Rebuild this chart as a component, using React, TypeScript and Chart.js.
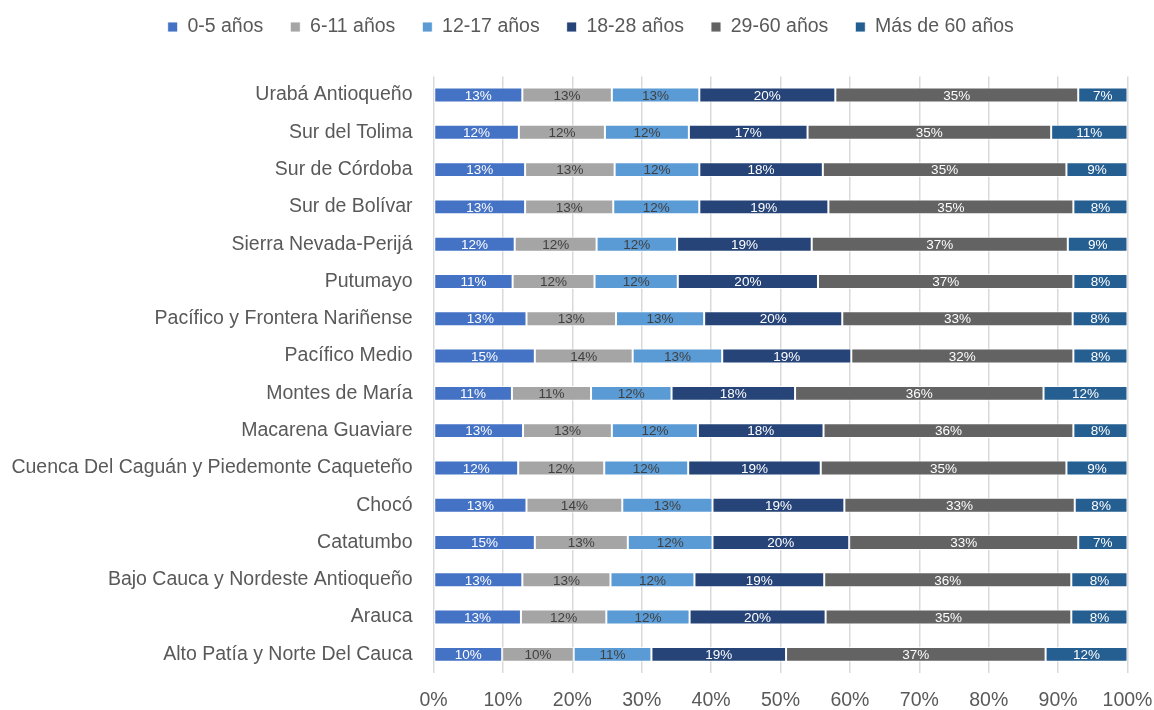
import React, { useEffect, useRef } from 'react';
import { Chart, registerables } from 'chart.js';

Chart.register(...registerables);

const categories = [
  'Urabá Antioqueño',
  'Sur del Tolima',
  'Sur de Córdoba',
  'Sur de Bolívar',
  'Sierra Nevada-Perijá',
  'Putumayo',
  'Pacífico y Frontera Nariñense',
  'Pacífico Medio',
  'Montes de María',
  'Macarena Guaviare',
  'Cuenca Del Caguán y Piedemonte Caqueteño',
  'Chocó',
  'Catatumbo',
  'Bajo Cauca y Nordeste Antioqueño',
  'Arauca',
  'Alto Patía y Norte Del Cauca',
];

const seriesNames = ['0-5 años', '6-11 años', '12-17 años', '18-28 años', '29-60 años', 'Más de 60 años'];

const age0to5 = [12.8, 12.3, 13.2, 13.2, 11.7, 11.4, 13.4, 14.6, 11.3, 12.9, 12.2, 13.4, 14.6, 12.8, 12.6, 9.9];
const age6to11 = [12.9, 12.4, 12.9, 12.7, 11.8, 11.8, 12.9, 14.1, 11.4, 12.8, 12.4, 13.8, 13.4, 12.7, 12.3, 10.3];
const age12to17 = [12.6, 12.1, 12.2, 12.4, 11.6, 12.0, 12.7, 12.9, 11.6, 12.4, 12.1, 13.0, 12.2, 12.1, 12.0, 11.2];
const age18to28 = [19.6, 17.1, 17.8, 18.6, 19.4, 20.2, 19.9, 18.6, 17.8, 18.1, 19.1, 19.0, 19.7, 18.7, 19.6, 19.4];
const age29to60 = [35.0, 35.1, 35.1, 35.3, 36.9, 36.8, 33.2, 32.0, 35.8, 36.0, 35.4, 33.2, 33.0, 35.6, 35.4, 37.4];
const age60plus = [7.1, 11.0, 8.8, 7.8, 8.6, 7.8, 7.9, 7.8, 12.1, 7.8, 8.8, 7.6, 7.1, 8.1, 8.1, 11.8];

const xTicks = [0, 10, 20, 30, 40, 50, 60, 70, 80, 90, 100];

const seriesValues = [age0to5, age6to11, age12to17, age18to28, age29to60, age60plus];
const seriesColors = ['#4472c4', '#a5a5a5', '#5b9bd5', '#264478', '#636363', '#255e91'];
const labelColors = ['#ffffff', '#404040', '#404040', '#ffffff', '#ffffff', '#ffffff'];

const FONT = '"Liberation Sans", Arial, sans-serif';
const TEXT = '#595959';

const legendSpacer = {
  id: 'legendSpacer',
  beforeInit(chart: any) {
    const orig = chart.legend.fit;
    chart.legend.fit = function fit() {
      orig.bind(chart.legend)();
      this.height += 19.9;
    };
  },
  afterLayout(chart: any) {
    const lg = chart.legend;
    lg.top -= 9.75;
    lg.bottom -= 9.75;
    lg.left += 27;
    lg.right += 27;
  },
};

const segLabels = {
  id: 'segLabels',
  afterDatasetsDraw(chart: any) {
    const ctx = chart.ctx;
    ctx.save();
    ctx.font = `13.5px ${FONT}`;
    ctx.textAlign = 'center';
    ctx.textBaseline = 'middle';
    chart.data.datasets.forEach((ds: any, i: number) => {
      const meta = chart.getDatasetMeta(i);
      meta.data.forEach((bar: any, j: number) => {
        const v = ds.data[j] as number;
        const cx = (bar.x + bar.base) / 2;
        ctx.fillStyle = labelColors[i];
        ctx.fillText(Math.round(v) + '%', cx, bar.y + 1);
      });
    });
    ctx.restore();
  },
};

export default function App() {
  const ref = useRef<HTMLCanvasElement | null>(null);

  useEffect(() => {
    document.body.style.margin = '0';
    if (!ref.current) return;
    const chart = new Chart(ref.current, {
      type: 'bar',
      data: {
        labels: categories,
        datasets: seriesNames.map((name, i) => ({
          label: name,
          data: seriesValues[i],
          backgroundColor: seriesColors[i],
          borderColor: 'rgba(255,255,255,0.85)',
          borderWidth: 1,
          borderSkipped: false,
          barPercentage: 0.4,
          categoryPercentage: 1,
        })),
      },
      options: {
        indexAxis: 'y',
        responsive: false,
        animation: false,
        layout: { padding: { top: 0, right: 26.5, bottom: 0, left: 0 } },
        plugins: {
          tooltip: { enabled: false },
          legend: {
            position: 'top',
            labels: {
              boxWidth: 10,
              boxHeight: 10,
              padding: 27,
              color: TEXT,
              font: { family: FONT, size: 19.5 },
            },
          },
        },
        scales: {
          x: {
            stacked: true,
            min: 0,
            max: 100,
            afterBuildTicks: (scale: any) => {
              scale.ticks = xTicks.map((v) => ({ value: v }));
            },
            afterFit: (scale: any) => {
              scale.height = 37;
              scale.paddingLeft = 0;
              scale.paddingRight = 0;
            },
            ticks: {
              color: TEXT,
              font: { family: FONT, size: 19.5 },
              padding: 16,
              callback: (v: any) => v + '%',
            },
            grid: { color: '#d9d9d9', lineWidth: 1.5, drawTicks: false },
            border: { display: false },
          },
          y: {
            stacked: true,
            afterFit: (scale: any) => {
              scale.width = 433.5;
            },
            ticks: {
              color: TEXT,
              font: { family: FONT, size: 19.5 },
              padding: 21,
            },
            grid: { display: false, drawTicks: false },
            border: { display: false },
          },
        },
      },
      plugins: [legendSpacer, segLabels],
    });
    return () => chart.destroy();
  }, []);

  return (
    <div style={{ width: 1154, height: 710 }}>
      <canvas ref={ref} width={1154} height={710} style={{ width: 1154, height: 710 }} />
    </div>
  );
}
